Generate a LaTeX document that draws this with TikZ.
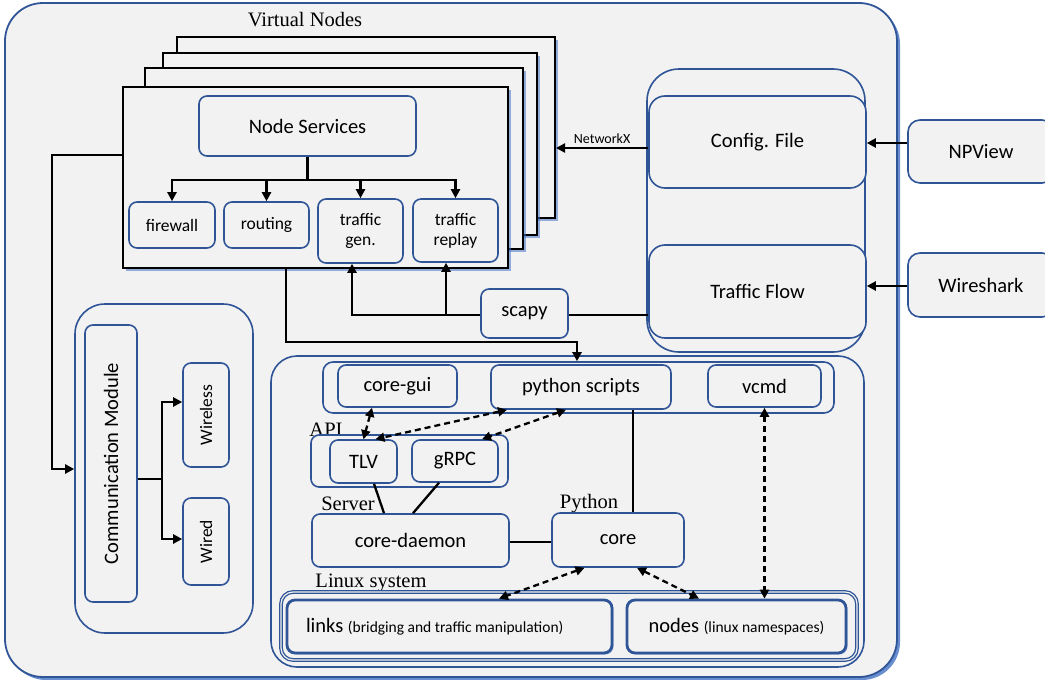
\documentclass[tikz,border=0pt]{standalone}
\usepackage{fontspec}
\usepackage{graphicx}
\setmainfont{Liberation Serif}
\newfontfamily\sansf{Carlito}
\usetikzlibrary{arrows.meta,shadows}

\definecolor{bord}{HTML}{2F5597}
\definecolor{panel}{HTML}{F2F2F2}
\definecolor{glow}{HTML}{4472C4}

\tikzset{
  % a rectangle given by its left, top, right and bottom edges
  span/.style args={#1,#2,#3,#4}{at={({(#1+#3)/2},{(#2+#4)/2})},
    minimum width={#3-#1}, minimum height={#4-#2}},
  box/.style={draw=bord, line width=1.6pt, fill=panel, rounded corners=8pt,
    inner sep=0pt, align=center, font=\sansf\fontsize{20.5}{23}\selectfont},
  sbox/.style={box, font=\sansf\fontsize{17.5}{20}\selectfont},
  stackbox/.style={draw=black, line width=2pt, fill=panel, inner sep=0pt,
    drop shadow={shadow xshift=3pt, shadow yshift=-3pt, fill=glow, opacity=0.55}},
  thickbox/.style={box, line width=2.8pt,
    drop shadow={shadow xshift=1.5pt, shadow yshift=-1.5pt, fill=glow, opacity=0.5}},
  lbl/.style={inner sep=0pt, font=\fontsize{20.5}{23}\selectfont},
  tip/.tip={Triangle[length=9pt,width=9pt]},
  arr/.style={line width=2.3pt, -tip},
  dar/.style={line width=2.3pt, dash pattern=on 6pt off 4pt, tip-tip},
  ln/.style={line width=2.3pt},
}

\begin{document}
\begin{tikzpicture}[x=1pt,y=-1pt]
\useasboundingbox (0,0) rectangle (1045,680);

% outer frame
\node[span={5,3,897,677}, inner sep=0pt, draw=bord, fill=panel, line width=1.8pt,
  rounded corners=38pt,
  drop shadow={shadow xshift=3pt, shadow yshift=-3pt, fill=glow, opacity=0.8}] (outer) {};

% helper levels
\coordinate (yA) at (0,155);
\coordinate (yNS) at (0,180);
\coordinate (yNX) at (0,148);
\coordinate (yNP) at (0,143);
\coordinate (yWS) at (0,286);
\coordinate (ySc) at (0,315);
\coordinate (yW1) at (0,402);
\coordinate (yW2) at (0,539);
\coordinate (yCD) at (0,542);
\coordinate (xPC) at (633,0);

% virtual nodes stack
\node[lbl] (vnl) at (305,20) {Virtual Nodes};
\node[stackbox, span={177,37,555,218}] (vn4) {};
\node[stackbox, span={163,53,537,235}] (vn3) {};
\node[stackbox, span={145,68,523,249}] (vn2) {};
\node[stackbox, span={123,87,508,268}] (vn1) {};

\node[box, span={199,96,416,156}] (ns) {Node Services};
\node[sbox, span={129,202,215,248}] (fw) {firewall};
\node[sbox, span={224,202,309,248}] (rt) {routing};
\node[sbox, span={318,199,403,263}] (tg) {traffic\\gen.};
\node[sbox, span={413,199,498,262}] (tr) {traffic\\replay};

\coordinate (nsj) at (ns.south |- yNS);
\draw[ln] (ns.south) -- (nsj);
\draw[arr] (nsj) -| (fw.north);
\draw[arr] (nsj) -| (rt.north);
\draw[arr] (nsj) -| (tg.north);
\draw[arr] (nsj) -| (tr.north);

% configuration inputs
\node[box, span={647,69,865,352}, rounded corners=32pt] (cc) {};
\node[box, span={649,96,866,188}, rounded corners=16pt] (cf) {Config. File};
\node[box, span={649,245,866,338}, rounded corners=16pt] (tf) {Traffic Flow};
\node[box, span={908,120,1054,183}, rounded corners=12pt] (np) {NPView};
\node[box, span={908,253,1054,317}, rounded corners=12pt] (ws) {Wireshark};
\node[box, span={481,289,568,338}] (sc) {scapy};

\draw[arr] (cf.west |- yNX) -- (vn4.east |- yNX)
  node[midway, above=3pt, inner sep=0pt, font=\sansf\fontsize{14}{16}\selectfont] (nxl) {NetworkX};
\draw[arr] (np.west |- yNP) -- (cf.east |- yNP);
\draw[arr] (ws.west |- yWS) -- (tf.east |- yWS);
\draw[ln] (tf.west |- ySc) -- (sc.east |- ySc);
\coordinate (sca) at (352,315);
\coordinate (scb) at (446,315);
\draw[arr] (sc.west |- ySc) -- (sca) -- (tg.south -| sca);
\draw[arr] (scb) -- (tr.south -| scb);

% communication module
\node[box, span={75,304,253,633}, rounded corners=30pt] (co) {};
\node[box, span={85,325,137,602}] (cm) {\rotatebox{90}{Communication Module}};
\node[sbox, span={183,363,229,467}] (wl) {\rotatebox{90}{Wireless}};
\node[sbox, span={183,498,229,585}] (wd) {\rotatebox{90}{Wired}};
\coordinate (cmj) at (162,479);
\draw[ln] (cm.east |- cmj) -- (cmj);
\draw[arr] (cmj) |- (wl.west |- yW1);
\draw[arr] (cmj) |- (wd.west |- yW2);
\coordinate (bend) at (52,469);
\draw[arr] (vn1.west |- yA) -| (bend) -- (co.west |- bend);

% core emulator
\node[box, span={271,356,864,667}, rounded corners=26pt] (lc) {};
\node[box, span={323,362,834,413}, rounded corners=10pt] (tb) {};
\node[box, span={338,365,457,407}] (cg) {core-gui};
\node[box, span={491,365,671,409}] (ps) {python scripts};
\node[box, span={708,365,821,407}] (vc) {vcmd};

\node[lbl] (apil) at (326,430) {API};
\node[box, span={311,435,508,487}] (api) {};
\node[box, span={330,440,397,483}] (tlv) {TLV};
\node[box, span={412,440,498,482}] (grpc) {gRPC};

\node[lbl] (srvl) at (348,504) {Server};
\node[lbl] (pyl) at (589,504) {Python};
\node[box, span={312,514,509,567}] (cd) {core-daemon};
\node[box, span={552,513,684,567}] (core) {core};

\node[lbl] (lxl) at (371,583) {Linux system};
\node[box, span={281,592,857,660}, rounded corners=12pt, line width=1.3pt,
  double=panel, double distance=1.2pt,
  drop shadow={shadow xshift=1.5pt, shadow yshift=-1.5pt, fill=glow, opacity=0.5}] (lx) {};
\node[thickbox, span={287,600,612,653}] (lk)
  {\makebox[287pt][l]{links {\fontsize{15.5}{18}\selectfont(bridging and traffic manipulation)}}};
\node[thickbox, span={627,600,846,653}] (nd)
  {nodes {\fontsize{15.5}{18}\selectfont(linux namespaces)}};

\coordinate (d1) at (286,342);
\coordinate (d2) at (577,342);
\draw[arr] (vn1.south -| d1) -- (d1) -- (d2) -- (tb.north -| d2);

\draw[dar] ([xshift=-25.5pt]cg.south) -- (tlv.north);
\draw[dar] ([xshift=-74pt]ps.south) -- ([xshift=12pt]tlv.north);
\draw[dar] ([xshift=-15pt]ps.south) -- ([xshift=27pt]grpc.north);
\draw[dar] (vc.south) -- (vc.south |- nd.north);
\draw[dar] ([xshift=-33.5pt]core.south) -- ([xshift=49.5pt]lk.north);
\draw[dar] ([xshift=19pt]core.south) -- ([xshift=-37.5pt]nd.north);

\draw[ln] ([xshift=10.5pt]tlv.south) -- ([xshift=-26.5pt]cd.north);
\draw[ln] ([xshift=-16pt]grpc.south) -- ([xshift=2.5pt]cd.north);
\draw[ln] (cd.east |- yCD) -- (core.west |- yCD);
\draw[ln] (ps.south -| xPC) -- (core.north -| xPC);
\end{tikzpicture}
\end{document}
